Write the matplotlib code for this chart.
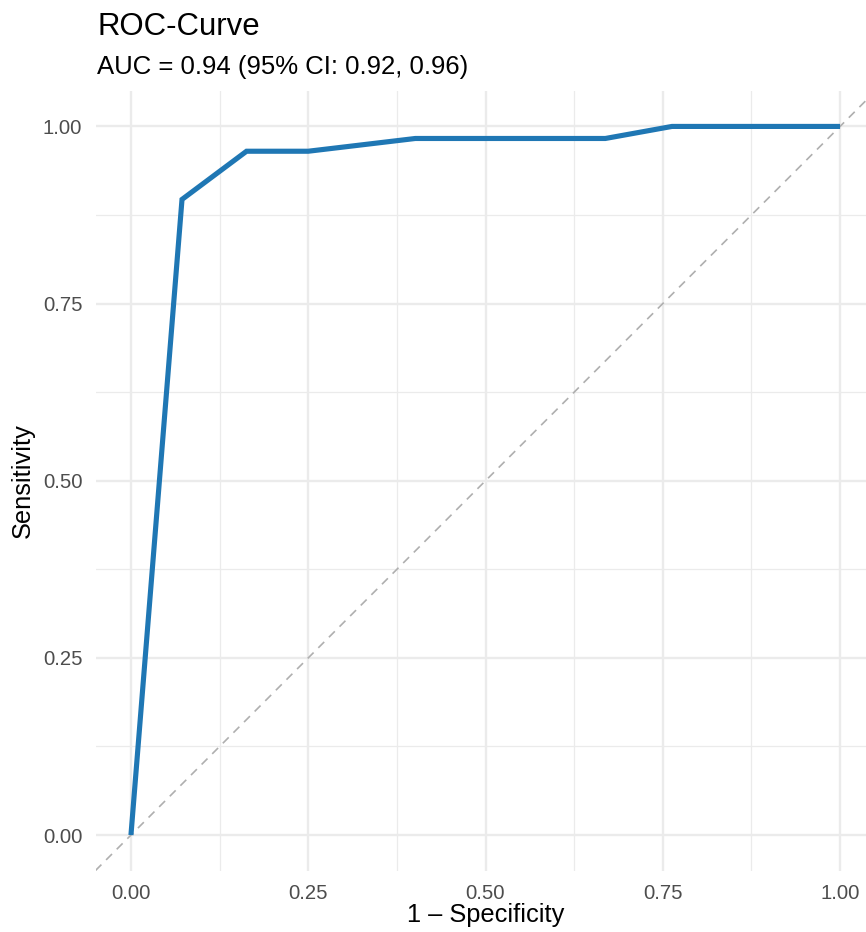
import numpy as np
import matplotlib
matplotlib.use("Agg")
import matplotlib.pyplot as plt
from matplotlib.ticker import MultipleLocator, FormatStrFormatter

# ROC curve points
fpr = [0.0, 0.072, 0.163, 0.250, 0.401, 0.669, 0.763, 1.0]
tpr = [0.0, 0.897, 0.965, 0.965, 0.983, 0.983, 1.0, 1.0]

title = "ROC-Curve"
subtitle = "AUC = 0.94 (95% CI: 0.92, 0.96)"

plt.rcParams['font.family'] = ['Liberation Sans', 'DejaVu Sans']

W, H = 866, 932
fig = plt.figure(figsize=(W / 100, H / 100), dpi=100)
fig.patch.set_facecolor('white')

# panel in pixel units -> figure fractions
left, right, top, bottom = 95.5, 875.5, 91.0, 870.5
ax = fig.add_axes([left / W, (H - bottom) / H, (right - left) / W, (bottom - top) / H])

grid_col = '#EBEBEB'
ax.set_xlim(-0.05, 1.05)
ax.set_ylim(-0.05, 1.05)
ax.xaxis.set_major_locator(MultipleLocator(0.25))
ax.yaxis.set_major_locator(MultipleLocator(0.25))
ax.xaxis.set_minor_locator(MultipleLocator(0.125))
ax.yaxis.set_minor_locator(MultipleLocator(0.125))
ax.xaxis.set_major_formatter(FormatStrFormatter('%.2f'))
ax.yaxis.set_major_formatter(FormatStrFormatter('%.2f'))
ax.grid(which='major', color=grid_col, linewidth=1.7)
ax.grid(which='minor', color=grid_col, linewidth=0.9)
ax.set_axisbelow(True)
for s in ax.spines.values():
    s.set_visible(False)
ax.tick_params(which='both', length=0, labelsize=14.6, labelcolor='#4D4D4D', pad=9.5)

# chance line across the whole panel
ax.plot([-0.05, 1.05], [-0.05, 1.05], color='#AFAFAF', linewidth=1.2,
        linestyle=(0, (5, 4)), zorder=2)
ax.plot(fpr, tpr, color='#1F77B4', linewidth=3.7, solid_joinstyle='miter',
        solid_capstyle='butt', zorder=3, clip_on=False)

ax.set_xlabel('1 \u2013 Specificity', fontsize=18.3, color='black')
ax.set_ylabel('Sensitivity', fontsize=18.3, color='black')
ax.xaxis.set_label_coords(0.5, (bottom - 915) / (bottom - top))
ax.xaxis.label.set_va('center')
ax.yaxis.set_label_coords((23 - left) / (right - left), 0.5)
ax.yaxis.label.set_va('center')

fig.text(97 / W, (H - 35) / H, title, fontsize=22.4, va='baseline', ha='left')
fig.text(97 / W, (H - 74) / H, subtitle, fontsize=18.5, va='baseline', ha='left')

fig.savefig('out.png', dpi=100, facecolor='white')
